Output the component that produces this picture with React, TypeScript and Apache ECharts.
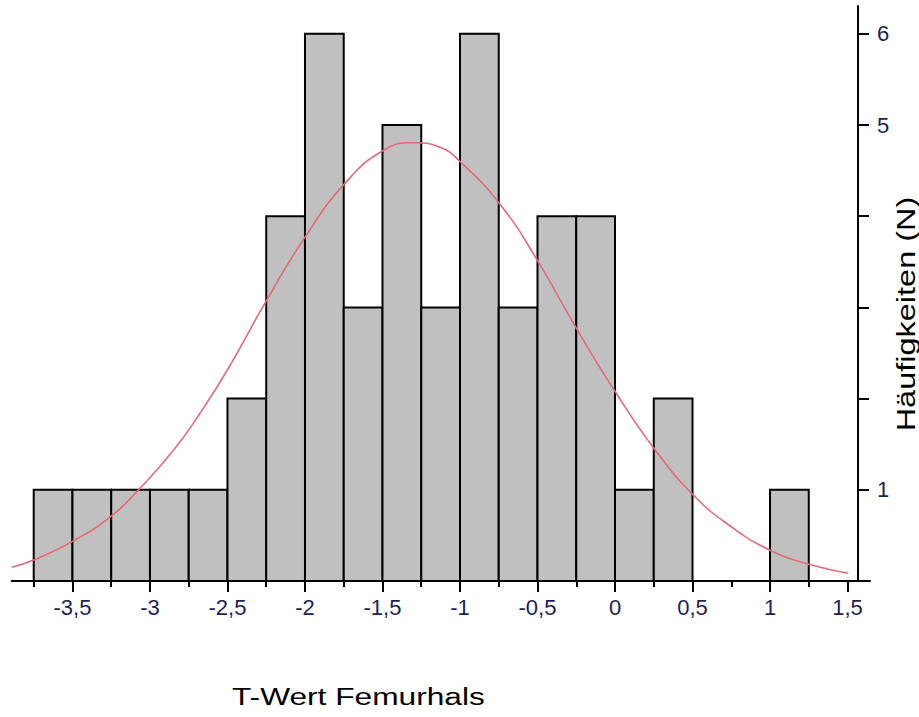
import React, { useEffect, useRef } from "react";
import * as echarts from "echarts";

// Histogram bin edges (T-Wert) and counts per bin
const binEdges = [
  -3.75, -3.5, -3.25, -3.0, -2.75, -2.5, -2.25, -2.0, -1.75, -1.5, -1.25,
  -1.0, -0.75, -0.5, -0.25, 0.0, 0.25, 0.5, 0.75, 1.0, 1.25,
];
const counts = [1, 1, 1, 1, 1, 2, 4, 6, 3, 5, 3, 6, 3, 4, 4, 1, 2, 0, 0, 1];

// Fitted normal curve
const curveX = [
  -3.892, -3.742, -3.499, -3.254, -3.065, -2.85, -2.677, -2.495, -2.247, -2.0,
  -1.742, -1.495, -1.301, -1.129, -1.0, -0.742, -0.495, -0.247, 0.011, 0.258,
  0.505, 0.75, 1.0, 1.258, 1.505,
];
const curveY = [
  0.15, 0.235, 0.435, 0.705, 1.016, 1.43, 1.84, 2.33, 3.08, 3.77, 4.36, 4.72,
  4.806, 4.755, 4.6, 4.13, 3.5, 2.765, 2.05, 1.44, 0.943, 0.595, 0.338, 0.18,
  0.085,
];

// Axis ticks and labels
const xMajorTicks = [-3.5, -3, -2.5, -2, -1.5, -1, -0.5, 0, 0.5, 1, 1.5];
const xMinorTicks = [-3.75, -3.25, -2.75, -2.25, -1.75, -1.25, -0.75, -0.25, 0.25, 0.75, 1.25];
const yTicks = [1, 2, 3, 4, 5, 6];
const yLabels = [1, 5, 6];

const xTitle = "T-Wert Femurhals";
const yTitle = "Häufigkeiten (N)";

export default function App() {
  const ref = useRef<HTMLDivElement>(null);

  useEffect(() => {
    if (!ref.current) return;
    const chart = echarts.init(ref.current, null, { renderer: "svg" });

    const barData = counts.map((c, i) => [binEdges[i], binEdges[i + 1], c]);
    const curveData = curveX.map((x, i) => [x, curveY[i]]);
    const font = "Arial, 'Liberation Sans', sans-serif";
    const labelColor = "#1e1e5a";

    chart.setOption({
      animation: false,
      backgroundColor: "#ffffff",
      grid: { left: 11.7, right: 49, top: 6, bottom: 136, containLabel: false },
      xAxis: [
        {
          type: "value",
          min: -3.892,
          max: 1.645,
          position: "bottom",
          splitLine: { show: false },
          axisLine: { show: true, onZero: false, lineStyle: { color: "#000", width: 2 } },
          axisTick: {
            show: true,
            customValues: xMajorTicks,
            length: 11,
            lineStyle: { color: "#000", width: 2 },
          },
          axisLabel: {
            show: true,
            customValues: xMajorTicks,
            margin: 15,
            fontSize: 22,
            fontFamily: font,
            color: labelColor,
            formatter: (v: number) => String(v).replace(".", ","),
          },
        },
        {
          type: "value",
          min: -3.892,
          max: 1.645,
          position: "bottom",
          splitLine: { show: false },
          axisLine: { show: false },
          axisTick: {
            show: true,
            customValues: xMinorTicks,
            length: 6,
            lineStyle: { color: "#000", width: 2 },
          },
          axisLabel: { show: false },
        },
      ],
      yAxis: {
        type: "value",
        position: "right",
        offset: -12,
        min: 0,
        max: 6.305,
        interval: 1,
        splitLine: { show: false },
        axisLine: { show: true, onZero: false, lineStyle: { color: "#000", width: 2 } },
        axisTick: {
          show: true,
          customValues: yTicks,
          length: 11,
          lineStyle: { color: "#000", width: 2 },
        },
        axisLabel: {
          show: true,
          customValues: yLabels,
          margin: 19,
          fontSize: 22,
          fontFamily: font,
          color: labelColor,
        },
      },
      series: [
        {
          type: "custom",
          xAxisIndex: 0,
          yAxisIndex: 0,
          z: 2,
          encode: { x: [0, 1], y: 2 },
          data: barData,
          renderItem: (params: any, api: any) => {
            const x0 = api.value(0);
            const x1 = api.value(1);
            const c = api.value(2);
            if (!c) return null;
            const p0 = api.coord([x0, c]);
            const p1 = api.coord([x1, 0]);
            return {
              type: "rect",
              shape: { x: p0[0], y: p0[1], width: p1[0] - p0[0], height: p1[1] - p0[1] },
              style: { fill: "#c0c0c0", stroke: "#000", lineWidth: 2 },
            };
          },
        },
        {
          type: "line",
          xAxisIndex: 0,
          yAxisIndex: 0,
          z: 4,
          data: curveData,
          smooth: 0.5,
          showSymbol: false,
          symbol: "none",
          lineStyle: { color: "#e36b7a", width: 1.6 },
        },
      ],
      graphic: [
        {
          type: "text",
          x: 232,
          y: 697,
          scaleX: 1.32,
          style: {
            text: xTitle,
            fontSize: 24,
            fontFamily: font,
            fill: "#000",
            align: "left",
            verticalAlign: "middle",
          },
        },
        {
          type: "text",
          x: 906,
          y: 314,
          rotation: Math.PI / 2,
          scaleX: 1.3,
          style: {
            text: yTitle,
            fontSize: 25,
            fontFamily: font,
            fill: "#000",
            align: "center",
            verticalAlign: "middle",
          },
        },
      ],
    });

    return () => chart.dispose();
  }, []);

  return (
    <div
      ref={ref}
      style={{ position: "absolute", left: 0, top: 0, width: 919, height: 717 }}
    />
  );
}
